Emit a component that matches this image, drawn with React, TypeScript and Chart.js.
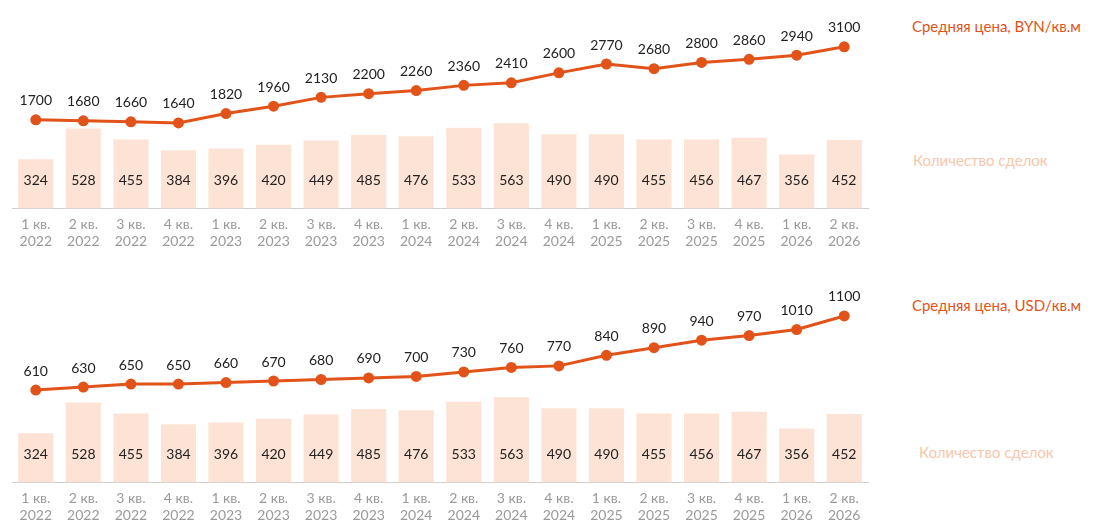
import React, { useEffect, useRef } from "react";
import { Chart, registerables } from "chart.js";
Chart.register(...registerables);

const quarters = ["1 кв.","2 кв.","3 кв.","4 кв.","1 кв.","2 кв.","3 кв.","4 кв.","1 кв.","2 кв.","3 кв.","4 кв.","1 кв.","2 кв.","3 кв.","4 кв.","1 кв.","2 кв."];
const years = ["2022","2022","2022","2022","2023","2023","2023","2023","2024","2024","2024","2024","2025","2025","2025","2025","2026","2026"];
const deals = [324,528,455,384,396,420,449,485,476,533,563,490,490,455,456,467,356,452];
const priceBYN = [1700,1680,1660,1640,1820,1960,2130,2200,2260,2360,2410,2600,2770,2680,2800,2860,2940,3100];
const priceUSD = [610,630,650,650,660,670,680,690,700,730,760,770,840,890,940,970,1010,1100];

const FONT = "Lato, 'Noto Sans', sans-serif";
const ORANGE = "#e2531a";
const PEACH = "#fde3d5";

const labelPlugin = {
  id: "vals",
  afterDatasetsDraw(chart: any) {
    const ctx = chart.ctx;
    ctx.save();
    ctx.font = `14px ${FONT}`;
    ctx.fillStyle = "#222";
    ctx.textAlign = "center";
    ctx.textBaseline = "middle";
    const bars = chart.getDatasetMeta(0);
    bars.data.forEach((el: any, i: number) => {
      ctx.fillText(String(chart.data.datasets[0].data[i]), el.x, chart.chartArea.bottom - 28);
    });
    const line = chart.getDatasetMeta(1);
    line.data.forEach((el: any, i: number) => {
      ctx.fillText(String(chart.data.datasets[1].data[i]), el.x, el.y - 19);
    });
    ctx.restore();
  },
};

function Panel({ prices, y2max, top, title, titleY, dealsX, dealsY }: any) {
  const ref = useRef<HTMLCanvasElement>(null);
  useEffect(() => {
    const c = new Chart(ref.current!, {
      type: "bar",
      data: {
        labels: quarters.map((q, i) => [q, years[i]]),
        datasets: [
          { type: "bar", data: deals, backgroundColor: PEACH, barPercentage: 0.74, categoryPercentage: 1, yAxisID: "y", order: 2 },
          { type: "line", data: prices, borderColor: ORANGE, backgroundColor: ORANGE, borderWidth: 3, pointRadius: 4, pointBackgroundColor: ORANGE, yAxisID: "y2", order: 1 },
        ],
      } as any,
      options: {
        animation: false,
        responsive: false,
        layout: { padding: { left: 12, right: 3, top: 0 } },
        plugins: { legend: { display: false }, tooltip: { enabled: false } },
        scales: {
          x: {
            grid: { display: false, drawTicks: false },
            border: { color: "#cfcfcf" },
            ticks: { color: "#9a9a9a", font: { family: FONT, size: 14 }, padding: 8, maxRotation: 0, autoSkip: false },
          },
          y: { display: false, min: 0, max: 1278 },
          y2: { display: false, min: 0, max: y2max },
        },
      },
      plugins: [labelPlugin],
    });
    return () => c.destroy();
  }, []);
  return (
    <div style={{ position: "absolute", left: 0, top, width: 1103, height: 250 }}>
      <canvas ref={ref} width={875} height={250} style={{ width: 875, height: 250 }} />
      <div style={{ position: "absolute", left: 912, top: titleY - 10, color: ORANGE, font: `15px ${FONT}`, whiteSpace: "nowrap" }}>{title}</div>
      <div style={{ position: "absolute", left: dealsX, top: dealsY - 10, color: "#f8c6ab", font: `15px ${FONT}`, whiteSpace: "nowrap" }}>Количество сделок</div>
    </div>
  );
}

export default function App() {
  return (
    <div style={{ position: "absolute", left: 0, top: 0, width: 1103, height: 532, background: "#fff", overflow: "hidden" }}>
      <Panel prices={priceBYN} y2max={3710} top={8} title="Средняя цена, BYN/кв.м" titleY={19} dealsX={913} dealsY={153} />
      <Panel prices={priceUSD} y2max={1278} top={282} title="Средняя цена, USD/кв.м" titleY={24} dealsX={919} dealsY={171} />
    </div>
  );
}
